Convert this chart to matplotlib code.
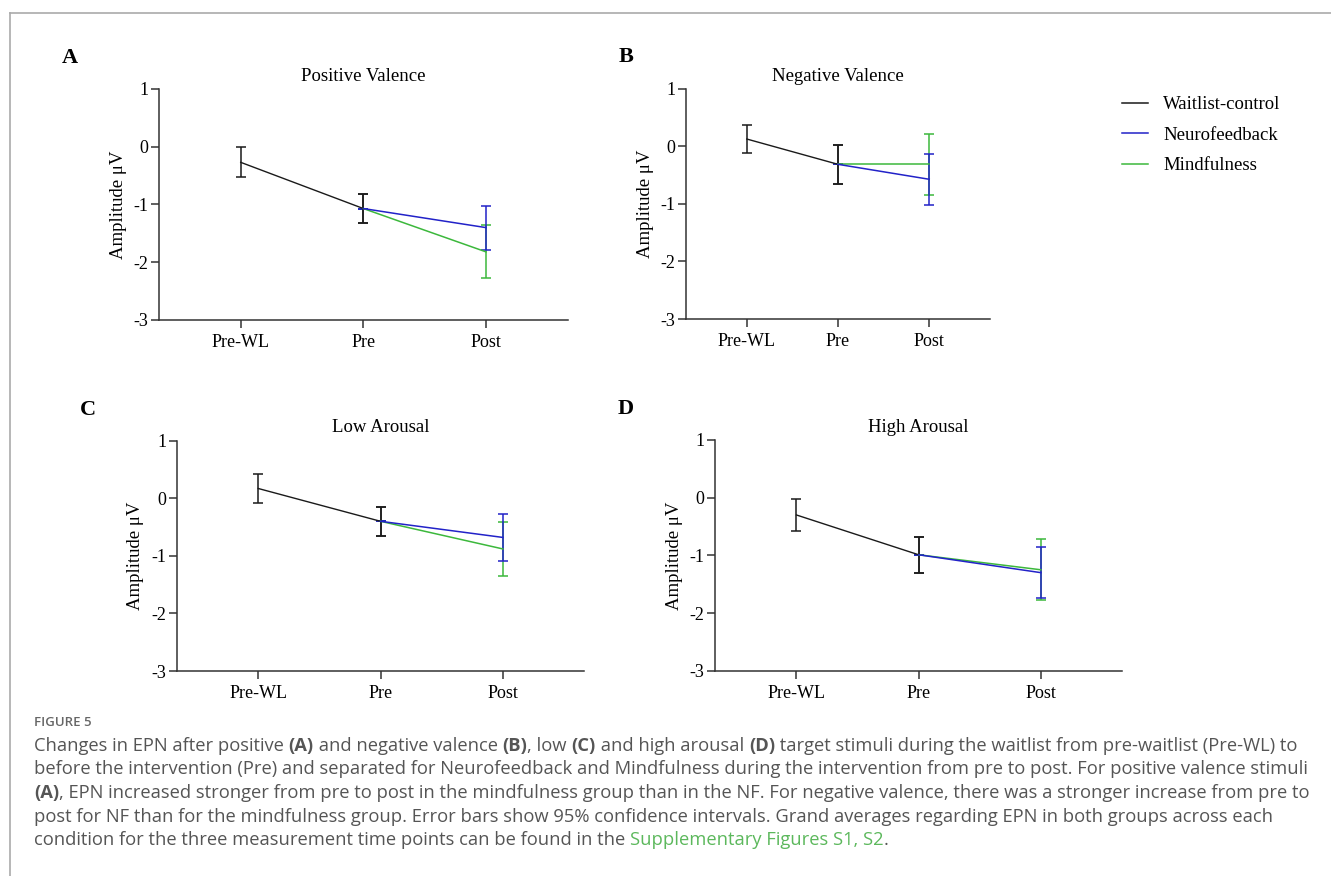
import matplotlib
matplotlib.use("Agg")
import matplotlib.pyplot as plt
from matplotlib.lines import Line2D

plt.rcParams['font.family'] = ['Liberation Serif', 'DejaVu Serif']
plt.rcParams['axes.unicode_minus'] = False

timepoints = ["Pre-WL", "Pre", "Post"]
panels = ["A", "B", "C", "D"]
titles = ["Positive Valence", "Negative Valence", "Low Arousal", "High Arousal"]

# waitlist-control: means and 95% CI half-widths at Pre-WL and Pre
wl_mean = [[-0.27, -1.07], [0.13, -0.31], [0.17, -0.40], [-0.30, -0.99]]
wl_ci = [[0.26, 0.25], [0.245, 0.34], [0.25, 0.25], [0.275, 0.31]]
# Neurofeedback / Mindfulness at Post (start from the Pre value)
nf_post = [-1.40, -0.57, -0.68, -1.30]
nf_ci = [0.38, 0.445, 0.405, 0.445]
mf_post = [-1.82, -0.31, -0.88, -1.25]
mf_ci = [0.46, 0.53, 0.475, 0.53]

c_wl = "#1a1a1a"
c_nf = "#2222c8"
c_mf = "#3cb83c"

W, H = 1331, 876
fig = plt.figure(figsize=(W / 100, H / 100), dpi=100)

# axes boxes in pixels: left, top, right, bottom
boxes = [(159, 89, 567.7, 320), (686, 89, 990, 319),
         (176.7, 440.7, 584.4, 671), (715, 440, 1122.3, 670.7)]
letter_pos = [(70, 58), (626, 57), (88, 410), (626, 409)]

for i in range(4):
    l, t, r, b = boxes[i]
    ax = fig.add_axes([l / W, 1 - b / H, (r - l) / W, (b - t) / H])
    x = [0, 1, 2]
    ax.errorbar(x[:2], wl_mean[i], yerr=wl_ci[i], color=c_wl, lw=1.0,
                capsize=3.5, elinewidth=1.1, capthick=1.1)
    ax.errorbar([1, 2], [wl_mean[i][1], mf_post[i]], yerr=[0, mf_ci[i]],
                color=c_mf, lw=1.1, capsize=3.5, elinewidth=1.1, capthick=1.1)
    ax.errorbar([1, 2], [wl_mean[i][1], nf_post[i]], yerr=[0, nf_ci[i]],
                color=c_nf, lw=1.1, capsize=3.5, elinewidth=1.1, capthick=1.1)
    # redraw pre error bar on top
    ax.errorbar([1], [wl_mean[i][1]], yerr=[wl_ci[i][1]], color=c_wl, lw=0,
                capsize=3.5, elinewidth=1.1, capthick=1.1)
    ax.set_xlim(-2 / 3, 8 / 3)
    ax.set_ylim(-3, 1)
    ax.set_yticks([-3, -2, -1, 0, 1])
    ax.set_xticks(x)
    ax.set_xticklabels(timepoints)
    for s in ["top", "right"]:
        ax.spines[s].set_visible(False)
    for s in ["left", "bottom"]:
        ax.spines[s].set_linewidth(1.1)
        ax.spines[s].set_color("#333333")
    ax.tick_params(length=6, width=1.1, color="#333333", labelsize=13)
    ax.tick_params(axis="y", pad=1.5)
    ax.tick_params(axis="x", pad=4)
    ax.set_ylabel("Amplitude μV", fontsize=13.5, labelpad=5)
    ax.set_title(titles[i], fontsize=13.5, pad=6)
    fig.text(letter_pos[i][0] / W, 1 - letter_pos[i][1] / H, panels[i],
             fontsize=16, fontweight="bold", ha="center", va="center")

handles = [Line2D([], [], color=c_wl, lw=1.1), Line2D([], [], color=c_nf, lw=1.1),
           Line2D([], [], color=c_mf, lw=1.1)]
fig.legend(handles, ["Waitlist-control", "Neurofeedback", "Mindfulness"],
           loc="upper left", bbox_to_anchor=(1122 / W, 1 - 96 / H),
           frameon=False, fontsize=13.5, handlelength=1.4, handletextpad=0.8,
           labelspacing=0.72, borderpad=0, borderaxespad=0)

# frame lines
fig.add_artist(Line2D([10 / W, 1], [1 - 13 / H, 1 - 13 / H], color="#aaaaaa", lw=1.2))
fig.add_artist(Line2D([10 / W, 10 / W], [0, 1 - 13 / H], color="#aaaaaa", lw=1.2))

# caption
cap_font = "Open Sans"
cap_size = 13.2
gray = "#555555"
link = "#5cb85c"
fig.text(34 / W, 1 - 722 / H, "FIGURE 5", fontsize=9.5, color="#666666",
         family=cap_font, va="center", fontweight="semibold")

lines = [
    [("Changes in EPN after positive ", "normal", gray), ("(A)", "bold", gray),
     (" and negative valence ", "normal", gray), ("(B)", "bold", gray),
     (", low ", "normal", gray), ("(C)", "bold", gray),
     (" and high arousal ", "normal", gray), ("(D)", "bold", gray),
     (" target stimuli during the waitlist from pre-waitlist (Pre-WL) to", "normal", gray)],
    [("before the intervention (Pre) and separated for Neurofeedback and Mindfulness during the intervention from pre to post. For positive valence stimuli", "normal", gray)],
    [("(A)", "bold", gray),
     (", EPN increased stronger from pre to post in the mindfulness group than in the NF. For negative valence, there was a stronger increase from pre to", "normal", gray)],
    [("post for NF than for the mindfulness group. Error bars show 95% confidence intervals. Grand averages regarding EPN in both groups across each", "normal", gray)],
    [("condition for the three measurement time points can be found in the ", "normal", gray),
     ("Supplementary Figures S1, S2", "normal", link), (".", "normal", gray)],
]
line_y = [746, 769.5, 793, 816.5, 840]

fig.canvas.draw()
renderer = fig.canvas.get_renderer()
for segs, yy in zip(lines, line_y):
    xx = 34
    for txt, wt, col in segs:
        t = fig.text(xx / W, 1 - yy / H, txt, fontsize=cap_size, color=col,
                     family=cap_font, fontweight=wt, va="center")
        bb = t.get_window_extent(renderer)
        xx += bb.width

fig.savefig("out.png", dpi=100)
